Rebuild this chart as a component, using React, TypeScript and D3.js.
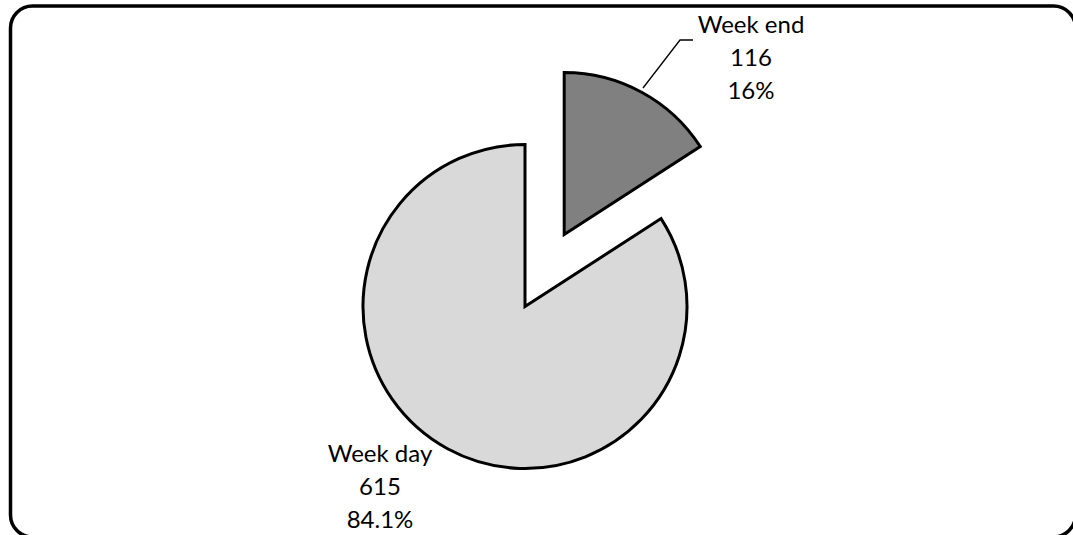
import React from "react";
import * as d3 from "d3";

const categories = ["Week end", "Week day"];
const values = [116, 615];
const percentLabels = ["16%", "84.1%"];
const fills = ["#808080", "#d9d9d9"];
const explode = [82, 0];

const W = 1073;
const H = 535;

export default function App() {
  const cx = 525;
  const cy = 306.5;
  const r = 162;
  const pie = d3.pie<number>().sort(null).startAngle(0).endAngle(2 * Math.PI);
  const arcs = pie(values);
  const arcGen = d3.arc<d3.PieArcDatum<number>>().innerRadius(0).outerRadius(r);

  const offsets = arcs.map((a, i) => {
    const mid = (a.startAngle + a.endAngle) / 2;
    return [Math.sin(mid) * explode[i], -Math.cos(mid) * explode[i]];
  });

  const labelPos = [
    { x: 751, y: 33 },
    { x: 380, y: 462 },
  ];
  const lineH = 33;

  return (
    <svg
      width={W}
      height={H}
      style={{ position: "absolute", left: 0, top: 0 }}
      fontFamily="Lato, 'Liberation Sans', sans-serif"
    >
      <rect x={0} y={0} width={W} height={H} fill="#ffffff" />
      <rect
        x={10.5}
        y={6}
        width={1065}
        height={531}
        rx={22}
        ry={22}
        fill="none"
        stroke="#000"
        strokeWidth={3.5}
      />
      {arcs.map((a, i) => (
        <path
          key={categories[i]}
          d={arcGen(a) || ""}
          transform={`translate(${cx + offsets[i][0]},${cy + offsets[i][1]})`}
          fill={fills[i]}
          stroke="#000"
          strokeWidth={3}
          strokeLinejoin="miter"
        />
      ))}
      <polyline
        points={`643,88 680,40 693,40`}
        fill="none"
        stroke="#000"
        strokeWidth={1.3}
      />
      {arcs.map((a, i) => (
        <text
          key={"t" + i}
          x={labelPos[i].x}
          y={labelPos[i].y}
          textAnchor="middle"
          fontSize={24}
          fill="#000"
        >
          <tspan x={labelPos[i].x} y={labelPos[i].y}>{categories[i]}</tspan>
          <tspan x={labelPos[i].x} y={labelPos[i].y + lineH}>{values[i]}</tspan>
          <tspan x={labelPos[i].x} y={labelPos[i].y + 2 * lineH}>{percentLabels[i]}</tspan>
        </text>
      ))}
    </svg>
  );
}
